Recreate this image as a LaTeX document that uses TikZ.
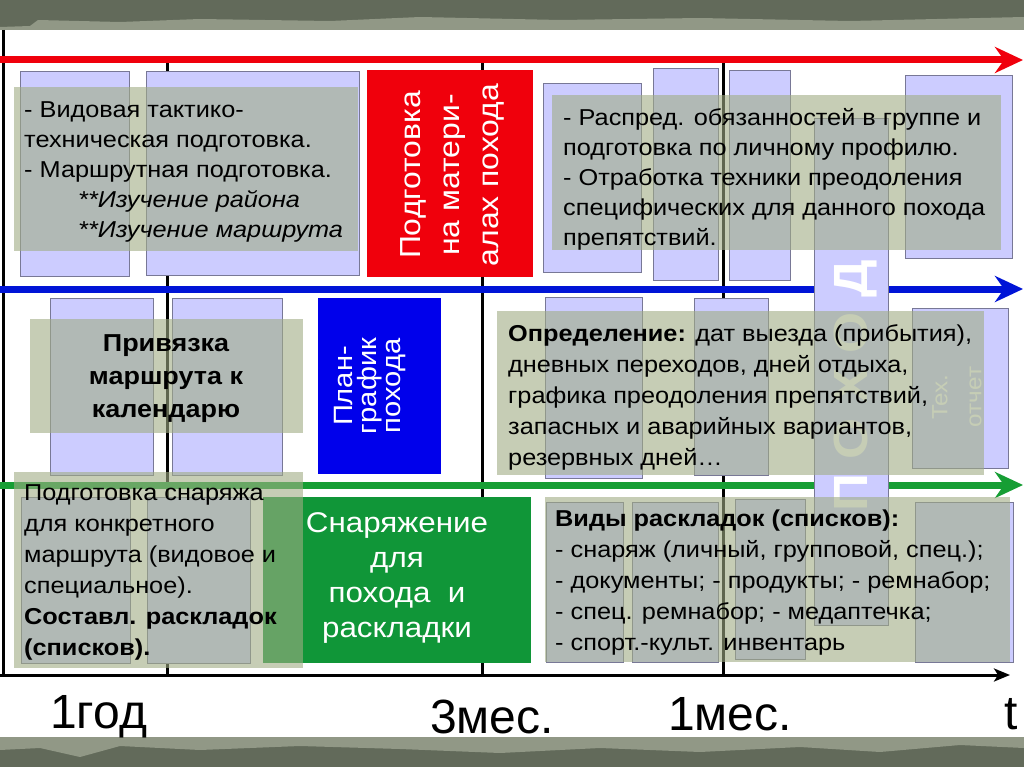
\documentclass[tikz,border=0pt]{standalone}
\usepackage{fontspec}
\setmainfont{Liberation Sans}[FakeStretch=1.1]
\newfontfamily\axfont{Liberation Sans}
\usetikzlibrary{arrows.meta}
\definecolor{lav}{RGB}{204,204,255}
\definecolor{lavb}{RGB}{120,120,150}
\definecolor{myred}{RGB}{240,0,12}
\definecolor{myblue}{RGB}{0,0,235}
\definecolor{arblue}{RGB}{0,20,215}
\definecolor{mygreen}{RGB}{16,150,56}
\definecolor{argreen}{RGB}{22,158,52}
\definecolor{ovc}{RGB}{160,173,132}
\definecolor{texdark}{RGB}{98,106,90}
\definecolor{texlight}{RGB}{145,152,134}
\tikzset{
  lavbox/.style={fill=lav, draw=lavb, line width=0.8pt},
  ovl/.style={fill=ovc, fill opacity=0.6},
  vline/.style={line width=3pt, black},
  band/.style={line width=7pt, -{Stealth[length=28pt,width=26pt,inset=9pt]}},
  btxt/.style={inner sep=0pt, anchor=north west, align=left, text=black},
  wtxt/.style={inner sep=0pt, text=white, align=center},
  faint/.style={inner sep=0pt, text=white, align=center},
  axlab/.style={inner sep=0pt, anchor=base west, font=\axfont\fontsize{48}{48}\selectfont},
}
\begin{document}
\begin{tikzpicture}[x=1pt,y=-1pt]
\useasboundingbox (0,0) rectangle (1024,767);
% background
\fill[white] (0,0) rectangle (1024,767);
\fill[texdark] (0,0) rectangle (1024,30);
\fill[texlight] (0,30) -- (0,27) -- (30,26) -- (38,20) -- (120,22) -- (200,19) -- (330,21) -- (420,17) -- (560,20) -- (700,18) -- (850,21) -- (1024,17) -- (1024,30) -- cycle;
\fill[texdark] (0,737) rectangle (1024,767);
\fill[texlight] (0,737) -- (1024,737) -- (1024,748) -- (960,745) -- (880,752) -- (800,747) -- (700,752) -- (600,748) -- (500,753) -- (400,749) -- (300,746) -- (200,750) -- (120,746) -- (80,757) -- (40,748) -- (0,750) -- cycle;

% coordinates
\coordinate (rA) at (0,60);   \coordinate (rB) at (1023,60);
\coordinate (bA) at (0,289);  \coordinate (bB) at (1023,289);
\coordinate (gA) at (0,485);  \coordinate (gB) at (1023,485);
\coordinate (tA) at (0,675);  \coordinate (tB) at (1010,675);
\coordinate (lb1) at (3,30);  \coordinate (lb2) at (3,676);
\coordinate (v1a) at (167,62); \coordinate (v1b) at (167,675);
\coordinate (v2a) at (482,62); \coordinate (v2b) at (482,675);
\coordinate (v3a) at (723,62); \coordinate (v3b) at (723,675);

% lines
\draw[vline] (lb1) -- (lb2);
\draw[vline] (v1a) -- (v1b);
\draw[vline] (v2a) -- (v2b);
\draw[vline] (v3a) -- (v3b);
\draw[line width=3pt, -{Stealth[length=16pt,width=13pt,inset=4pt]}] (tA) -- (tB);
\draw[band, myred] (rA) -- (rB);
\draw[band, arblue] (bA) -- (bB);
\draw[band, argreen] (gA) -- (gB);

% lavender boxes
\path[lavbox] (20,71) rectangle (129,276);
\path[lavbox] (146,71) rectangle (359,275);
\path[lavbox] (543,83) rectangle (641,272);
\path[lavbox] (653,68) rectangle (718,280);
\path[lavbox] (729,70) rectangle (790,280);
\path[lavbox] (905,75) rectangle (1012,258);
\path[lavbox] (814,118) rectangle (888,625);
\path[lavbox] (50,298) rectangle (153,475);
\path[lavbox] (172,298) rectangle (282,475);
\path[lavbox] (545,297) rectangle (642,478);
\path[lavbox] (694,298) rectangle (768,475);
\path[lavbox] (912,308) rectangle (1008,468);
\path[lavbox] (21,497) rectangle (130,663);
\path[lavbox] (147,497) rectangle (250,663);
\path[lavbox] (546,502) rectangle (623,662);
\path[lavbox] (632,502) rectangle (718,662);
\path[lavbox] (735,499) rectangle (805,659);
\path[lavbox] (915,502) rectangle (1013,662);

% faint texts
\node[faint, rotate=90, font=\fontsize{22}{34}\selectfont] (ftex) at (957,397) {Тех.\\отчет};
\node[faint, rotate=90, font=\bfseries\fontsize{48}{48}\selectfont] (pohod) at (856,386) {П О Х О Д};

% coloured boxes
\fill[myred] (367,70) rectangle (533,277);
\fill[myblue] (318,298) rectangle (441,474);
\fill[mygreen] (263,497) rectangle (531,663);
\node[wtxt, rotate=90, font=\fontsize{29}{39}\selectfont] (redt) at (452,175) {Подготовка\\на матери-\\алах похода};
\node[wtxt, rotate=90, font=\fontsize{26.5}{24}\selectfont] (bluet) at (370,386) {План-\\график\\похода};
\node[wtxt, font=\fontsize{28.5}{35}\selectfont] (greent) at (397,578) {Снаряжение\\для\\похода~ и\\раскладки};

% overlays
\path[ovl] (14,87) rectangle (358,251);
\path[ovl] (552,95) rectangle (1001,250);
\path[ovl] (30,319) rectangle (303,433);
\path[ovl] (497,311) rectangle (984,475);
\path[ovl] (14,472) rectangle (303,668);
\path[ovl] (545,497) rectangle (1010,662);

% overlay texts
\node[btxt, font=\fontsize{23}{30}\selectfont] (t1) at (24,101.5)
  {- Видовая тактико-\\техническая подготовка.\\- Маршрутная подготовка.\\\hspace*{54pt}\textit{**Изучение района}\\\hspace*{54pt}\textit{**Изучение маршрута}};
\node[btxt, font=\fontsize{23}{30}\selectfont] (t2) at (563,108.5)
  {- Распред. обязанностей в группе и\\подготовка по личному профилю.\\- Отработка техники преодоления\\специфических для данного похода\\препятствий.};
\node[inner sep=0pt, align=center, font=\bfseries\fontsize{24.5}{33}\selectfont] (t3) at (166,379)
  {Привязка\\маршрута к\\календарю};
\node[btxt, font=\fontsize{23}{31}\selectfont] (t4) at (508,324.5)
  {\textbf{Определение:} дат выезда (прибытия),\\дневных переходов, дней отдыха,\\графика преодоления препятствий,\\запасных и аварийных вариантов,\\резервных дней…};
\node[btxt, font=\fontsize{23}{31}\selectfont] (t5) at (24,484.5)
  {Подготовка снаряжа\\для конкретного\\маршрута (видовое и\\специальное).\\\textbf{Составл. раскладок}\\\textbf{(списков).}};
\node[btxt, font=\fontsize{23}{31}\selectfont] (t6) at (555,510)
  {\textbf{Виды раскладок (списков):}\\- снаряж (личный, групповой, спец.);\\- документы; - продукты; - ремнабор;\\- спец. ремнабор; - медаптечка;\\- спорт.-культ. инвентарь};

% axis labels
\node[axlab] (l1) at (50,728) {1год};
\node[axlab] (l2) at (430,733) {3мес.};
\node[axlab] (l3) at (668,730) {1мес.};
\node[axlab] (l4) at (1004,729) {t};
\end{tikzpicture}
\end{document}
